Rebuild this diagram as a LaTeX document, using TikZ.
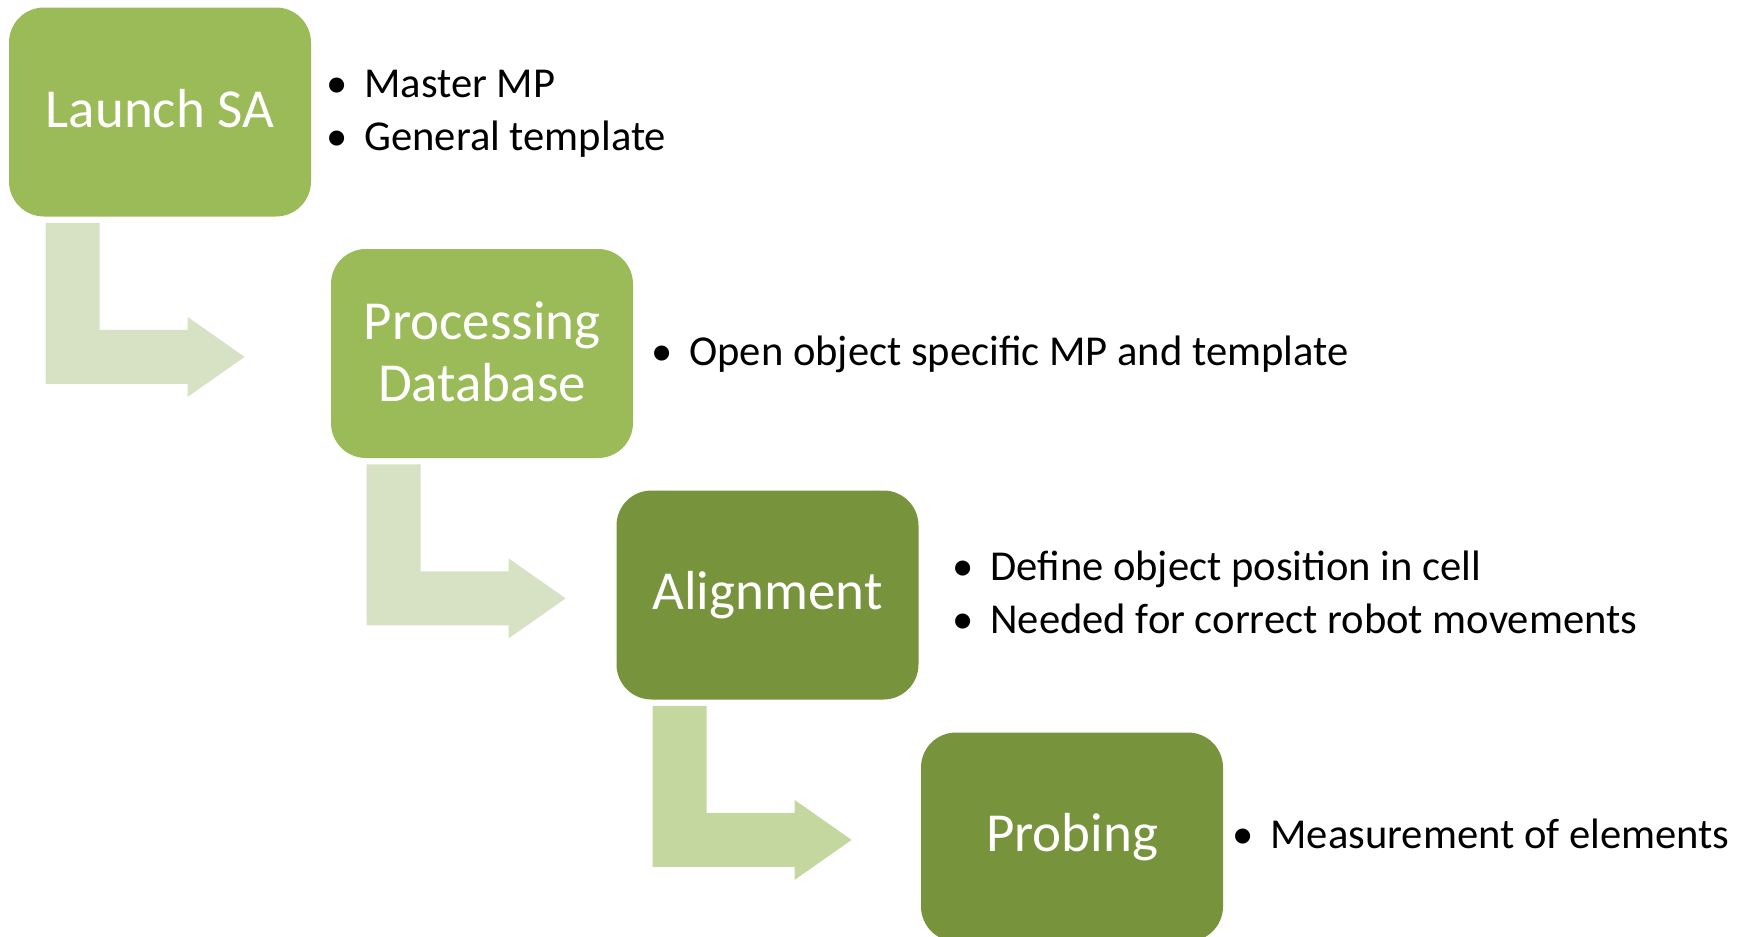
\documentclass[tikz,border=0pt]{standalone}
\usepackage{fontspec}
\setmainfont{Carlito}
\usetikzlibrary{calc}
\definecolor{lightolive}{HTML}{9BBB59}
\definecolor{darkolive}{HTML}{77933C}
\definecolor{paleA}{HTML}{D7E1C4}
\definecolor{paleB}{HTML}{C4D79F}
\tikzset{
  stepbox/.style={rounded corners=17.5pt, minimum width=151pt, minimum height=104.5pt,
    inner sep=0pt, text=white, font=\fontsize{27.5}{31}\selectfont, align=center},
  bullettext/.style={anchor=base west, inner sep=0pt, font=\fontsize{21.3}{25}\selectfont, text=black},
  bentarrow/.pic={\fill[#1] (0,0) -- (54,0) -- (54,107) -- (142,107) -- (142,94)
    -- (199,134) -- (142,174) -- (142,161) -- (0,161) -- cycle;}
}
\newcommand{\bul}[1]{\makebox[19pt][l]{•}#1}
\begin{document}
\begin{tikzpicture}[x=0.5pt,y=-0.5pt]
\useasboundingbox (0,0) rectangle (1746,937);
% boxes
\node[stepbox, fill=lightolive] (launch) at (160,112) {};
\node[stepbox, fill=lightolive] (proc) at (482,353.5) {};
\node[stepbox, fill=darkolive] (align) at (767.5,595) {};
\node[stepbox, fill=darkolive] (probe) at (1072,837) {};
\node[stepbox, minimum size=0pt, draw=none, fill=none] (launchlbl) at ($(launch.center)+(0,-3)$) {Launch SA};
\node[stepbox, minimum size=0pt, draw=none, fill=none] (proclbl) at ($(proc.center)+(0,-2)$) {Processing\\Database};
\node[stepbox, minimum size=0pt, draw=none, fill=none] (alignlbl) at (align.center) {Alignment};
\node[stepbox, minimum size=0pt, draw=none, fill=none] (probelbl) at (probe.center) {Probing};
% bent arrows
\pic at ($(launch.south west)+(37,6)$) {bentarrow=paleA};
\pic at ($(proc.south west)+(36,6)$) {bentarrow=paleA};
\pic at ($(align.south west)+(36.5,6)$) {bentarrow=paleB};
% bullet texts
\node[bullettext] (t1a) at (326,97) {\bul{Master MP}};
\node[bullettext] (t1b) at (326,150) {\bul{General template}};
\node[bullettext] (t2a) at (651,365) {\bul{Open object specific MP and template}};
\node[bullettext] (t3a) at (952,580) {\bul{Define object position in cell}};
\node[bullettext] (t3b) at (952,633) {\bul{Needed for correct robot movements}};
\node[bullettext] (t4a) at (1232,848) {\bul{Measurement of elements}};
\end{tikzpicture}
\end{document}
